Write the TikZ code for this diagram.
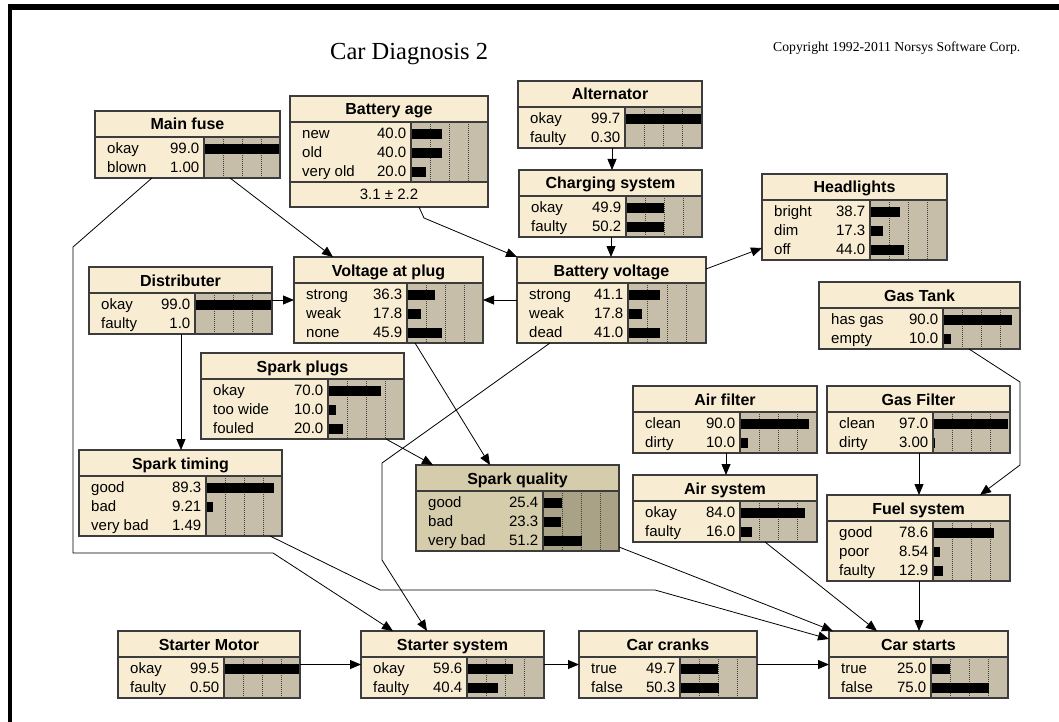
\documentclass[tikz,border=0pt]{standalone}
\usepackage{fontspec}
\setmainfont{Liberation Sans}
\newfontfamily\timesfont{Liberation Serif}
\usetikzlibrary{arrows.meta}
\definecolor{NodeCream}{HTML}{F8EDD2}
\definecolor{BarTan}{HTML}{C6BEA8}
\definecolor{EdgeGrey}{HTML}{3C3C3C}
\definecolor{SelTitle}{HTML}{D4CCAA}
\definecolor{SelBars}{HTML}{A9A286}

\tikzset{
  nodetitle/.style={fill=NodeCream},
  nodebody/.style={fill=NodeCream},
  nodebars/.style={fill=BarTan},
  nodeline/.style={draw=EdgeGrey, line width=1.2pt},
  nodeframe/.style={draw=EdgeGrey, line width=1.4pt, inner sep=0pt, outer sep=0pt},
  gridline/.style={black!75, line width=0.7pt, dash pattern=on 1pt off 1pt},
  titletext/.style={font=\bfseries\fontsize{16}{16}\selectfont, inner sep=0pt, anchor=base},
  statetext/.style={font=\fontsize{15}{15}\selectfont, inner sep=0pt},
  netlink/.style={-{Triangle[length=11pt,width=9pt]}, line width=0.8pt},
}

% name, x, y, width, label column, title, number of states, states
\newcommand{\netnode}[8]{%
  \pgfmathsetmacro{\bodyh}{19*#7+3}
  \pgfmathsetmacro{\boxh}{26+\bodyh}
  \fill[nodetitle] (#2,#3) rectangle ++(#4,26);
  \fill[nodebody] (#2,#3+26) rectangle ++(#5,\bodyh);
  \fill[nodebars] (#2+#5,#3+26) rectangle (#2+#4,#3+26+\bodyh);
  \foreach \q in {0.25,0.5,0.75}
    \draw[gridline] ({#2+#5+\q*(#4-#5)},#3+26) -- ++(0,\bodyh);
  \foreach \lab/\val [count=\i from 0] in {#8} {
    \node[statetext, anchor=base west] at (#2+12,#3+42.5+19*\i) {\lab};
    \node[statetext, anchor=base east] at (#2+#5-4.5,#3+42.5+19*\i) {\val};
    \fill ({#2+#5},#3+33+19*\i) rectangle ++({\val/100*(#4-#5)},10);
  }
  \draw[nodeline] (#2,#3+26) -- ++(#4,0) (#2+#5,#3+26) -- ++(0,\bodyh);
  \node[nodeframe, minimum width=#4pt, minimum height=\boxh pt, anchor=north west] (#1) at (#2,#3) {};
  \node[titletext] at (#2+#4/2,#3+19) {#6};
}

\begin{document}
\begin{tikzpicture}[x=1pt, y=-1pt]
  \useasboundingbox (0,0) rectangle (1059,722);
  \fill (8,4) rectangle (1059,10);
  \fill (8,4) rectangle (12,722);

  \node[font=\timesfont\fontsize{24.5}{24.5}\selectfont, anchor=base west, inner sep=0pt] (diagtitle) at (330,60) {Car Diagnosis 2};
  \node[font=\timesfont\fontsize{13.7}{13.7}\selectfont, anchor=base west, inner sep=0pt] (copyright) at (773,52) {Copyright 1992-2011 Norsys Software Corp.};

  \netnode{mainfuse}{95}{111}{185}{109}{Main fuse}{2}{okay/99.0, blown/1.00}
  \netnode{batteryage}{290}{96}{198}{121}{Battery age}{3}{new/40.0, old/40.0, very old/20.0}
  \node[nodeframe, fill=NodeCream, minimum width=198pt, minimum height=25pt, anchor=north west,
        font=\fontsize{15}{15}\selectfont] (batteryagefoot) at (290,182) {3.1 ± 2.2};
  \netnode{alternator}{518}{81}{184}{107}{Alternator}{2}{okay/99.7, faulty/0.30}
  \netnode{charging}{519}{170}{183}{107}{Charging system}{2}{okay/49.9, faulty/50.2}
  \netnode{headlights}{762}{174}{185}{108}{Headlights}{3}{bright/38.7, dim/17.3, off/44.0}
  \netnode{batteryvolt}{517}{257}{189}{111}{Battery voltage}{3}{strong/41.1, weak/17.8, dead/41.0}
  \netnode{voltplug}{294}{257}{189}{113}{Voltage at plug}{3}{strong/36.3, weak/17.8, none/45.9}
  \netnode{distributer}{89}{267}{183}{106}{Distributer}{2}{okay/99.0, faulty/1.0}
  \netnode{sparkplugs}{201}{353}{203}{127}{Spark plugs}{3}{okay/70.0, too wide/10.0, fouled/20.0}
  \netnode{sparktiming}{79}{450}{203}{127}{Spark timing}{3}{good/89.3, bad/9.21, very bad/1.49}
  \begin{scope}[nodetitle/.style={fill=SelTitle}, nodebody/.style={fill=SelTitle}, nodebars/.style={fill=SelBars}]
    \netnode{sparkquality}{416}{465}{203}{127}{Spark quality}{3}{good/25.4, bad/23.3, very bad/51.2}
  \end{scope}
  \netnode{gastank}{819}{282}{201}{124}{Gas Tank}{2}{has gas/90.0, empty/10.0}
  \netnode{airfilter}{633}{386}{184}{107}{Air filter}{2}{clean/90.0, dirty/10.0}
  \netnode{gasfilter}{827}{386}{183}{106}{Gas Filter}{2}{clean/97.0, dirty/3.00}
  \netnode{airsystem}{633}{475}{184}{107}{Air system}{2}{okay/84.0, faulty/16.0}
  \netnode{fuelsystem}{827}{495}{183}{106}{Fuel system}{3}{good/78.6, poor/8.54, faulty/12.9}
  \netnode{startermotor}{118}{631}{182}{106}{Starter Motor}{2}{okay/99.5, faulty/0.50}
  \netnode{startersys}{361}{631}{183}{106}{Starter system}{2}{okay/59.6, faulty/40.4}
  \netnode{carcranks}{579}{631}{178}{101}{Car cranks}{2}{true/49.7, false/50.3}
  \netnode{carstarts}{829}{631}{179}{102}{Car starts}{2}{true/25.0, false/75.0}

  % links
  \draw[netlink] ([xshift=135pt]mainfuse.south west) -- ([xshift=39pt]voltplug.north west);
  \draw[netlink] ([xshift=57pt]mainfuse.south west) -- (73,247) -- (73,553) -- (273,553) -- ([xshift=32pt]startersys.north west);
  \draw[netlink] ([xshift=129pt]batteryagefoot.south west) -- (424,218) -- (batteryvolt.north west);
  \draw[netlink] ([xshift=94pt]alternator.south west) -- ([xshift=93pt]charging.north west);
  \draw[netlink] ([xshift=92pt]charging.south west) -- ([xshift=94pt]batteryvolt.north west);
  \draw[netlink] ([yshift=-12pt]batteryvolt.north east) -- ([yshift=-74pt]headlights.north west);
  \draw[netlink] ([yshift=-43pt]batteryvolt.north west) -- ([yshift=-43pt]voltplug.north east);
  \draw[netlink] ([yshift=-33pt]distributer.north east) -- ([yshift=-43pt]voltplug.north west);
  \draw[netlink] ([xshift=92pt]distributer.south west) -- ([xshift=102pt]sparktiming.north west);
  \draw[netlink] ([xshift=121pt]voltplug.south west) -- ([xshift=74pt]sparkquality.north west);
  \draw[netlink] ([xshift=185pt]sparkplugs.south west) -- ([xshift=17pt]sparkquality.north west);
  \draw[netlink] ([xshift=33pt]batteryvolt.south west) -- (382,463) -- (382,560) -- ([xshift=66pt]startersys.north west);
  \draw[netlink] ([xshift=191pt]sparktiming.south west) -- (380,590) -- (655,590) -- ([yshift=-8pt]carstarts.north west);
  \draw[netlink] ([yshift=4pt]sparkquality.south east) -- ([xshift=4pt]carstarts.north west);
  \draw[netlink] ([xshift=132pt]airsystem.south west) -- ([xshift=48pt]carstarts.north west);
  \draw[netlink] ([xshift=92pt]fuelsystem.south west) -- ([xshift=90pt]carstarts.north west);
  \draw[netlink] ([xshift=92pt]gasfilter.south west) -- ([xshift=92pt]fuelsystem.north west);
  \draw[netlink] ([xshift=150pt]gastank.south west) -- (1020,382) -- (1020,465) -- ([xshift=153pt]fuelsystem.north west);
  \draw[netlink] ([xshift=93pt]airfilter.south west) -- ([xshift=93pt]airsystem.north west);
  \draw[netlink] (startermotor.east) -- (startersys.west);
  \draw[netlink] (startersys.east) -- (carcranks.west);
  \draw[netlink] (carcranks.east) -- (carstarts.west);
\end{tikzpicture}
\end{document}
